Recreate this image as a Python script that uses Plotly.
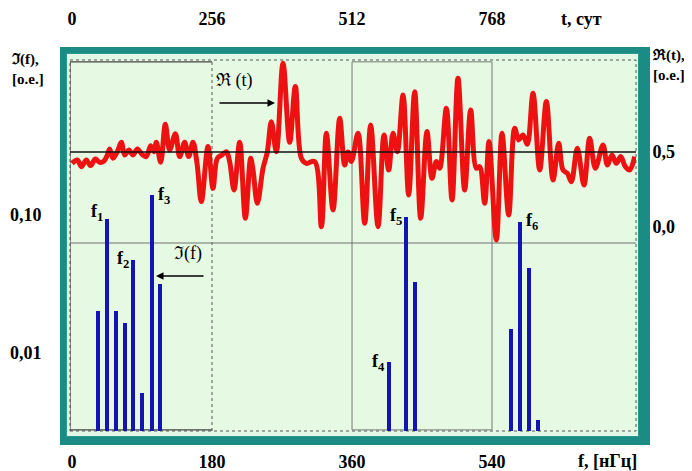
import math
import plotly.graph_objects as go

# ---- spectrum (bottom / left log axis) ----
freq = [33.4, 45.0, 56.6, 68.0, 78.4, 90.0, 103.0, 113.0,
        407.6, 429.4, 441.0,
        564.4, 576.0, 587.6, 599.0]
spec = [0.0201, 0.0935, 0.0201, 0.0165, 0.0472, 0.0051, 0.1396, 0.0316,
        0.00847, 0.0967, 0.0327,
        0.0149, 0.0890, 0.0413, 0.00321]
peak_labels = {"f<sub>1</sub>": 1, "f<sub>2</sub>": 4, "f<sub>3</sub>": 6,
               "f<sub>4</sub>": 8, "f<sub>5</sub>": 9, "f<sub>6</sub>": 12}

# ---- time series (top / right axis) ----
t_days = [0, 9.8, 17.1, 26.2, 34.1, 42.7, 50.6, 58.5, 64.6, 68.9,
          75.0, 82.9, 90.2, 96.3, 104.2, 111.5, 119.5, 128.0, 135.9, 143.8,
          149.9, 154.2, 162.1, 170.7, 178.6, 189.0, 196.9, 206.0, 213.3, 221.2,
          228.6, 236.5, 248.7, 257.8, 265.8, 274.3, 282.2, 288.3, 296.2, 306.6,
          317.0, 326.7, 331.0, 338.9, 349.3, 357.2, 364.5, 373.6, 385.8, 398.0,
          408.4, 419.4, 428.5, 443.7, 456.0, 465.1, 477.3, 489.5, 498.6, 504.7,
          510.8, 523.0, 535.2, 546.1, 559.6, 570.5, 579.1, 587.0, 594.9, 605.3,
          615.6, 626.6, 637.6, 649.1, 658.3, 666.2, 672.3, 684.5, 694.9, 705.8,
          718.0, 729.0, 739.4, 745.4, 754.6, 762.5, 775.9, 786.3, 798.5, 809.5,
          816.8, 824.7, 832.6, 843.0, 855.2, 867.4, 879.6, 889.9, 897.8, 905.8,
          913.1, 924.0, 936.2, 946.6, 957.0, 971.0, 978.9, 987.4, 995.4, 1003.3,
          1011.8, 1019.7, 1028.9]
r_vals = [0.424, 0.447, 0.402, 0.447, 0.409, 0.453, 0.431, 0.440, 0.480, 0.520,
          0.458, 0.502, 0.564, 0.480, 0.513, 0.480, 0.520, 0.484, 0.469, 0.542,
          0.502, 0.564, 0.431, 0.684, 0.513, 0.622, 0.469, 0.564, 0.469, 0.564,
          0.424, 0.169, 0.536, 0.258, 0.458, 0.480, 0.502, 0.436, 0.247, 0.564,
          0.058, 0.458, 0.380, 0.158, 0.391, 0.502, 0.702, 0.502, 1.091, 0.564,
          0.936, 0.458, 0.424, 0.436, 0.002, 0.624, 0.113, 0.724, 0.413, 0.500,
          0.436, 0.624, 0.024, 0.680, 0.002, 0.613, 0.380, 0.624, 0.502, 0.880,
          0.213, 0.902, 0.058, 0.636, 0.324, 0.436, 0.391, 0.791, 0.180, 0.991,
          0.247, 0.780, 0.391, 0.402, 0.158, 0.569, -0.087, 0.624, 0.080, 0.658,
          0.580, 0.613, 0.551, 0.891, 0.380, 0.836, 0.313, 0.558, 0.380, 0.358,
          0.302, 0.524, 0.280, 0.591, 0.391, 0.547, 0.413, 0.480, 0.424, 0.469,
          0.402, 0.380, 0.469]
assert len(t_days) == len(r_vals)

f_ticks = [0, 180, 360, 540]
t_ticks = [0, 256, 512, 768]
spec_ticks = [0.1, 0.01]
spec_ticktext = ["0,10", "0,01"]
r_ticks = [0.5, 0.0]
r_ticktext = ["0,5", "0,0"]

SERIF = "Liberation Serif, Times New Roman, serif"
OFF = 8                      # page body margin
W, H = 692 - OFF, 471 - OFF
PL, PT, PR, PB = 70, 60, 636, 431   # plot box in page pixels
L, T = PL - OFF, PT - OFF
PW, PH = PR - PL, PB - PT
R_ = W - L - PW
B = H - T - PH


def px(x):
    return (x - PL) / PW


def py(y):
    return (PB - y) / PH


fig = go.Figure()
fig.add_trace(go.Bar(x=freq, y=spec, width=5.0, marker=dict(color="#1414b4", line=dict(width=0)),
                     xaxis="x", yaxis="y", showlegend=False))
fig.add_trace(go.Scatter(x=t_days, y=r_vals, mode="lines",
                         line=dict(color="#ee1111", width=5, shape="spline", smoothing=1.0),
                         xaxis="x2", yaxis="y2", showlegend=False))

f_range = [-2.57, 725.1]
t_range = [-3.66, 1031.3]
top_y, bot_y = 0.995, 0.003


def seg(x0, x1, y0, y1, color, width=1, dash="solid", xref="x", layer="below"):
    return dict(type="line", xref=xref, yref="paper", x0=x0, x1=x1, y0=y0, y1=y1,
                line=dict(color=color, width=width, dash=dash), layer=layer)


shapes = [
    dict(type="rect", xref="paper", yref="paper", x0=px(60), x1=px(650), y0=py(445), y1=py(47),
         fillcolor="#1b8c85", line=dict(width=0), layer="below"),
    dict(type="rect", xref="paper", yref="paper", x0=px(66.5), x1=px(638.5), y0=py(436.5), y1=py(53.5),
         fillcolor="#e2f7e6", line=dict(color="#2a9a90", width=1), layer="below"),
    dict(type="rect", xref="paper", yref="paper", x0=0, x1=1, y0=0, y1=1,
         fillcolor="#e6fae3", line=dict(color="#555555", width=1, dash="dot"), layer="below"),
    # left box (solid top/bottom/left, dotted right edge)
    seg(f_range[0], 180, top_y, top_y, "#444444", 1.2),
    seg(f_range[0], 180, bot_y, bot_y, "#444444", 1.2),
    seg(f_range[0], f_range[0], bot_y, top_y, "#444444", 1.2),
    seg(180, 180, 0, 1, "#555555", 1, "dot"),
    # middle box
    dict(type="rect", xref="x", yref="paper", x0=360, x1=540, y0=bot_y, y1=top_y,
         line=dict(color="#777777", width=1), layer="below"),
    dict(type="line", xref="paper", yref="paper", x0=0, x1=1, y0=py(243), y1=py(243),
         line=dict(color="#707070", width=1), layer="below"),
    dict(type="line", xref="paper", yref="y2", x0=0, x1=1, y0=0.5, y1=0.5,
         line=dict(color="#111111", width=1.5), layer="above"),
]

ann = []
bold = dict(family=SERIF, size=18, color="black")
for text, i in peak_labels.items():
    right = i in (1, 4, 8, 9)
    ann.append(dict(x=freq[i], y=math.log10(spec[i]), xref="x", yref="y",
                    text="<b>" + text + "</b>", showarrow=False, font=bold,
                    xanchor="right" if right else "left", yanchor="middle",
                    xshift=-2 if right else 4, yshift=6 if i == 1 else 0))


def label(x, y, text, size=18, align="center"):
    return dict(x=px(x), y=py(y), xref="paper", yref="paper", text=text, showarrow=False,
                xanchor="center", yanchor="middle", align=align,
                font=dict(family=SERIF, size=size, color="black"))


ann += [
    label(234, 80, "ℜ (t)"),
    label(188, 253, "ℑ(f)"),
    dict(x=px(275), y=py(103), xref="paper", yref="paper", text="", showarrow=True,
         ax=-57, ay=0, arrowhead=2, arrowsize=1, arrowwidth=1.5, arrowcolor="black"),
    dict(x=px(156), y=py(276), xref="paper", yref="paper", text="", showarrow=True,
         ax=49, ay=0, arrowhead=2, arrowsize=1, arrowwidth=1.5, arrowcolor="black"),
    label(28, 69, "<b>ℑ(f),<br>[o.e.]</b>", size=15, align="left"),
    label(668, 65, "<b>ℜ(t),<br>[o.e.]</b>", size=15, align="left"),
    label(581, 19, "<b>t, сут</b>"),
    label(607, 461, "<b>f, [нГц]</b>"),
]

tickfont = dict(family=SERIF, size=18, color="black")
common = dict(ticks="outside", tickcolor="rgba(0,0,0,0)", showgrid=False, zeroline=False,
              showline=False, tickfont=tickfont, automargin=False)
fig.update_layout(
    width=W, height=H, margin=dict(l=L, r=R_, t=T, b=B, autoexpand=False),
    paper_bgcolor="white", plot_bgcolor="rgba(0,0,0,0)",
    bargap=0,
    xaxis=dict(range=f_range, tickvals=f_ticks, ticktext=["<b>%d</b>" % v for v in f_ticks],
               ticklen=14, **common),
    xaxis2=dict(range=t_range, overlaying="x", side="top", tickvals=t_ticks,
                ticktext=["<b>%d</b>" % v for v in t_ticks], ticklen=27, **common),
    yaxis=dict(type="log", range=[-2.571, 0.127], tickvals=spec_ticks,
               ticktext=["<b>%s</b>" % s for s in spec_ticktext], ticklen=24, **common),
    yaxis2=dict(range=[-1.36, 1.113], overlaying="y", side="right", tickvals=r_ticks,
                ticktext=["<b>%s</b>" % s for s in r_ticktext], ticklen=12, **common),
    shapes=shapes, annotations=ann,
)

fig.write_html("out.html")
